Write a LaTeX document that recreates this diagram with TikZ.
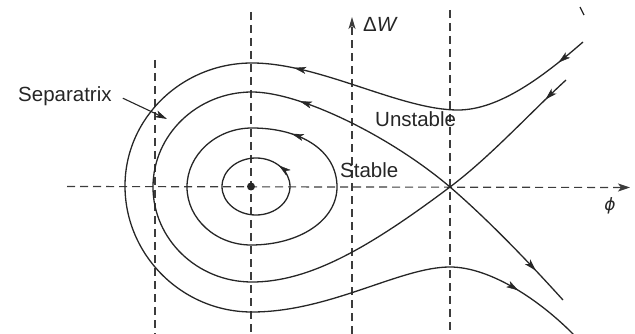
\documentclass[tikz,border=0pt]{standalone}
\usepackage{fontspec}
\setmainfont{Liberation Sans}
\newfontfamily\phifont{DejaVu Sans}
\usetikzlibrary{arrows.meta,decorations.markings}
\definecolor{ink}{gray}{0.15}
\tikzset{
  curve/.style={draw=ink, line width=1.3pt},
  dashline/.style={draw=ink!90, line width=1.15pt, dash pattern=on 8pt off 5pt},
  flowtip/.style={postaction={decorate}, decoration={markings, mark=at position #1 with {\arrow[ink]{Stealth[length=12pt,width=7pt,inset=3pt]}}}},
  lbl/.style={font=\fontsize{20.5}{24}\selectfont, inner sep=0pt, text=ink},
}
\begin{document}
\begin{tikzpicture}[x=1pt,y=-1pt]
\useasboundingbox (0,0) rectangle (635,334);
\coordinate (O) at (251,186.5);
\coordinate (S) at (450,187);
% axes
\coordinate (hx0) at (67,186.5);
\coordinate (hx1) at (630,187.5);
\coordinate (vy0) at (352,334);
\coordinate (vy1) at (352,17);
\draw[dashline, -{Stealth[length=12pt,width=8pt,inset=3pt]}] (hx0) -- (hx1);
\draw[dashline, -{Stealth[length=12pt,width=7pt,inset=3pt]}] (vy0) -- (vy1);
% vertical guides
\draw[dashline] (155,60) -- (155,334);
\draw[dashline] (251,12) -- (251,334);
\draw[dashline] (450,10) -- (450,334);
% inner orbit
\draw[curve] (290,186.5) .. controls (290,170.8) and (274.8,158) .. (256,158)
  .. controls (237.2,158) and (222,170.8) .. (222,186.5)
  .. controls (222,202.2) and (237.2,215) .. (256,215)
  .. controls (274.8,215) and (290,202.2) .. cycle;
\path[flowtip=0.5] (290,186.5) .. controls (290,170.8) and (274.8,158) .. (256,158);
% stable orbit
\draw[curve] (337,187) .. controls (337,150) and (300,128) .. (252,128)
  .. controls (216,128) and (187,155) .. (187,187)
  .. controls (187,219) and (216,245) .. (251,245)
  .. controls (300,245) and (337,220) .. cycle;
\path[flowtip=0.65] (337,187) .. controls (337,150) and (300,128) .. (252,128);
% separatrix loop
\draw[curve] (S) .. controls (390,136) and (300,92) .. (252,92)
  .. controls (197,92) and (153,135) .. (153,187)
  .. controls (153,239) and (197,282) .. (252,282)
  .. controls (310,282) and (370,247) .. (S);
\path[flowtip=0.78] (S) .. controls (390,136) and (300,92) .. (252,92);
% branches through the saddle
\coordinate (ur) at (566,80);
\coordinate (lr) at (563,300);
\draw[curve, flowtip=0.18] (ur) .. controls (530,113) and (490,157) .. (S);
\draw[curve, flowtip=0.75] (S) .. controls (485,217) and (525,258) .. (lr);
% outer open trajectory
\coordinate (oa) at (583,42);
\coordinate (ob) at (575,336);
\draw[curve] (oa) .. controls (545,75) and (500,110) .. (458,110)
  .. controls (400,110) and (320,63) .. (252,63)
  .. controls (182,63) and (125,118) .. (125,186)
  .. controls (125,255) and (182,312) .. (252,312)
  .. controls (330,312) and (400,267) .. (450,267)
  .. controls (490,267) and (540,300) .. (ob);
\path[flowtip=0.22] (oa) .. controls (545,75) and (500,110) .. (458,110);
\path[flowtip=0.8] (458,110) .. controls (400,110) and (320,63) .. (252,63);
\path[flowtip=0.5] (450,267) .. controls (490,267) and (540,300) .. (ob);
% small stroke at top right
\coordinate (m0) at (580,7);
\coordinate (m1) at (584,15);
\draw[curve] (m0) -- (m1);
% fixed point
\fill[ink] (O) circle[radius=4];
% labels
\node[lbl, anchor=base west] (sep) at (18,101.5) {Separatrix};
\node[lbl, anchor=base west] (uns) at (375,127) {Unstable};
\node[lbl, anchor=base west] (stb) at (340,178) {Stable};
\node[lbl, anchor=base west] (dw) at (363,32) {Δ\textit{W}};
\node[lbl, anchor=center] (phi) at (610,206) {\fontsize{17}{20}\selectfont\phifont\itshape ϕ};
\coordinate (septip) at (167,119);
\draw[ink, line width=1.1pt, -{Stealth[length=12pt,width=7pt,inset=3pt]}] ([xshift=11pt,yshift=-2pt]sep.east) -- (septip);
\end{tikzpicture}
\end{document}
